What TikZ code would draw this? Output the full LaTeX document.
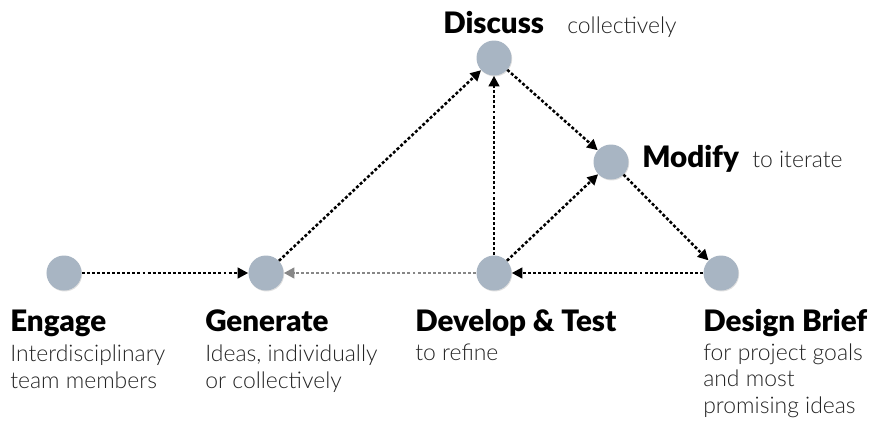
\documentclass[tikz,border=0pt]{standalone}
\usepackage{fontspec}
\setmainfont{Lato Light}
\newfontfamily\headfont{Lato Black}
\usepackage{tikz}
\usetikzlibrary{arrows.meta}
\usetikzlibrary{shadows}
\definecolor{stagefill}{RGB}{168,181,195}
\definecolor{linkgray}{RGB}{135,135,135}
\definecolor{notegray}{RGB}{35,35,35}
\tikzset{stage/.style = {circle, fill=stagefill, inner sep=0, minimum size=0.875cm,
                         drop shadow={opacity=0.25, shadow xshift=0.5pt, shadow yshift=-0.7pt}},
         link/.style = {line width=1.8pt, dash pattern=on 2.1pt off 1.5pt,
                        -{Triangle[length=7.5pt, width=7.5pt]}},
         head/.style = {anchor=base west, inner sep=0, font=\headfont\fontsize{21}{25}\selectfont},
         note/.style = {anchor=base west, inner sep=0, align=left, text=notegray,
                        font=\fontsize{16.3}{18.5}\selectfont}}

\begin{document}
\begin{tikzpicture}[x=0.025cm, y=-0.025cm]
    \useasboundingbox (0, 0) rectangle (886, 423);
    \node [stage] (engage) at (64, 273) {};
    \node [stage] (generate) at (266, 273) {};
    \node [stage] (develop) at (494, 273) {};
    \node [stage] (brief) at (721, 273) {};
    \node [stage] (discuss) at (494, 58) {};
    \node [stage] (modify) at (611, 162) {};
    \draw [link] (engage) -- (generate);
    \draw [link, linkgray] (develop) -- (generate);
    \draw [link] (generate) -- (discuss);
    \draw [link] (develop) -- (discuss);
    \draw [link] (develop) -- (modify);
    \draw [link] (discuss) -- (modify);
    \draw [link] (modify) -- (brief);
    \draw [link] (brief) -- (develop);
    % note nodes sit on the baseline of their last line
    \node [head] (engage-title) at (10, 331) {Engage};
    \node [note] (engage-text) at (10, 388) {Interdisciplinary\\team members};
    \node [head] (generate-title) at (205, 331) {Generate};
    \node [note] (generate-text) at (205, 388) {Ideas, individually\\or collectively};
    \node [head] (develop-title) at (415, 331) {Develop \& Test};
    \node [note] (develop-text) at (415, 360) {to refine};
    \node [head] (brief-title) at (703, 331) {Design Brief};
    \node [note] (brief-text) at (703, 413) {for project goals\\and most\\promising ideas};
    \node [head] (discuss-title) at (443, 33) {Discuss};
    \node [note] (discuss-text) at (567, 33) {collectively};
    \node [head] (modify-title) at (642, 167) {Modify};
    \node [note] (modify-text) at (752, 167) {to iterate};
  \end{tikzpicture}
\end{document}
